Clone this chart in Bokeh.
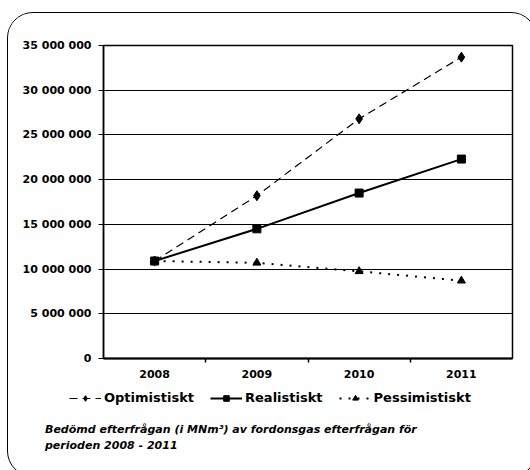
from bokeh.plotting import figure
from bokeh.layouts import column
from bokeh.models import (ColumnDataSource, FixedTicker, Legend, LegendItem, Range1d, Div)
from bokeh.embed import file_html
from bokeh.resources import INLINE

years = ["2008", "2009", "2010", "2011"]
optimistiskt = [10900000, 18200000, 26800000, 33700000]
realistiskt = [10900000, 14500000, 18500000, 22300000]
pessimistiskt = [10900000, 10700000, 9750000, 8700000]
y_ticks = [0, 5000000, 10000000, 15000000, 20000000, 25000000, 30000000, 35000000]
y_tick_labels = ["0", "5 000 000", "10 000 000", "15 000 000", "20 000 000",
                 "25 000 000", "30 000 000", "35 000 000"]
series_names = ["Optimistiskt", "Realistiskt", "Pessimistiskt"]
caption_lines = ["Bedömd efterfrågan (i MNm³) av fordonsgas efterfrågan för",
                 "perioden 2008 - 2011"]

xpos = [i + 0.5 for i in range(len(years))]
src = ColumnDataSource(dict(x=xpos, opt=optimistiskt, real=realistiskt, pess=pessimistiskt))

FONT = "DejaVu Sans"
W = 518

p = figure(width=W, height=371, output_backend="svg", toolbar_location=None,
           x_range=Range1d(0, len(years)), y_range=Range1d(0, y_ticks[-1]),
           min_border_left=95, min_border_top=32, min_border_right=14, min_border_bottom=26,
           background_fill_color="white", border_fill_color="white",
           outline_line_color="black", outline_line_width=1.5)
p.frame_align = False

# axes
p.yaxis.ticker = FixedTicker(ticks=y_ticks)
p.yaxis.major_label_overrides = {t: l for t, l in zip(y_ticks, y_tick_labels)}
p.yaxis.major_label_text_font = FONT
p.yaxis.major_label_text_font_style = "bold"
p.yaxis.major_label_text_font_size = "11px"
p.yaxis.major_label_text_color = "black"
p.yaxis.major_tick_out = 5
p.yaxis.major_tick_in = 0
p.yaxis.minor_tick_line_color = None
p.yaxis.axis_line_width = 1.5
p.yaxis.axis_line_color = "black"
p.yaxis.major_tick_line_color = "black"
p.yaxis.major_label_standoff = 7

p.xaxis.ticker = FixedTicker(ticks=xpos, minor_ticks=list(range(1, len(years))))
p.xaxis.major_label_overrides = {x: y for x, y in zip(xpos, years)}
p.xaxis.major_tick_line_color = None
p.xaxis.major_tick_out = 4
p.xaxis.major_tick_in = 0
p.xaxis.minor_tick_out = 4
p.xaxis.minor_tick_in = 0
p.xaxis.minor_tick_line_color = "black"
p.xaxis.minor_tick_line_width = 1.5
p.xaxis.axis_line_width = 2
p.xaxis.axis_line_color = "black"
p.xaxis.major_label_text_font = FONT
p.xaxis.major_label_text_font_style = "bold"
p.xaxis.major_label_text_font_size = "11px"
p.xaxis.major_label_text_color = "black"
p.xaxis.major_label_standoff = 7

p.xgrid.grid_line_color = None
p.ygrid.grid_line_color = "black"
p.ygrid.grid_line_width = 1
p.ygrid.ticker = FixedTicker(ticks=y_ticks)

# series
styles = [
    dict(col="opt", lw=1.2, dash="8 5", marker="diamond", size=10),
    dict(col="real", lw=2, dash="solid", marker="square", size=8),
    dict(col="pess", lw=2, dash="2 7", marker="triangle", size=8),
]
for s in styles:
    p.line("x", s["col"], source=src, line_color="black", line_width=s["lw"], line_dash=s["dash"])
    p.scatter("x", s["col"], source=src, marker=s["marker"], size=s["size"],
              fill_color="black", line_color="black")

# legend strip (same series, plotted out of view so only the legend shows)
lf = figure(width=W, height=26, output_backend="svg", toolbar_location=None,
            x_range=Range1d(0, len(years)), y_range=Range1d(-2, -1),
            x_axis_location=None, y_axis_location=None,
            min_border=0, min_border_left=0, min_border_right=0,
            min_border_top=0, min_border_bottom=0, outline_line_color=None,
            background_fill_color="white", border_fill_color="white")
lf.frame_align = False
lf.grid.visible = False
items = []
for name, s in zip(series_names, styles):
    lr = lf.line("x", s["col"], source=src, line_color="black", line_width=s["lw"], line_dash=s["dash"])
    mr = lf.scatter("x", s["col"], source=src, marker=s["marker"], size=s["size"] - 1,
                    fill_color="black", line_color="black")
    items.append(LegendItem(label=name, renderers=[lr, mr]))
legend = Legend(items=items, orientation="horizontal", location=(61, 5),
                border_line_color=None, background_fill_alpha=0,
                label_text_font=FONT, label_text_font_style="bold",
                label_text_font_size="13px", label_text_color="black",
                glyph_width=32, glyph_height=14, spacing=16, padding=2, margin=0,
                label_standoff=3)
lf.add_layout(legend, "center")

caption = Div(
    text=("<div style=\"font-family:'DejaVu Sans';font-size:11px;font-weight:bold;"
          "font-style:italic;line-height:16px;padding-left:32px;padding-top:7px;color:black\">"
          + "<br>".join(caption_lines) + "</div>"),
    width=W, height=56)

layout = column(p, lf, caption, spacing=0,
                styles={"border": "1.5px solid black", "border-radius": "26px",
                        "margin-left": "7px", "margin-top": "12px",
                        "background-color": "white", "overflow": "hidden"})

open("out.html", "w").write(file_html(layout, INLINE))
